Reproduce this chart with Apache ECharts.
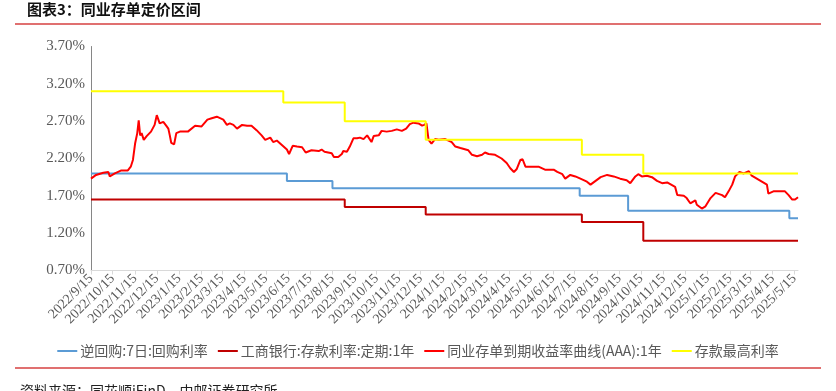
<!DOCTYPE html>
<html>
<head>
<meta charset="utf-8">
<script src="https://cdn.jsdelivr.net/npm/echarts@6/dist/echarts.min.js"></script>
<style>html,body{margin:0;padding:0;background:#fff;}#c{width:836px;height:391px;}</style>
</head>
<body>
<div id="c"></div>
<script>
// ---- data ----
const startDate = '2022/9/15';
const endDate = '2025/5/20';
const yTicks = [0.7, 1.2, 1.7, 2.2, 2.7, 3.2, 3.7];
const seriesNames = ['逆回购:7日:回购利率', '工商银行:存款利率:定期:1年', '同业存单到期收益率曲线(AAA):1年', '存款最高利率'];

const repoDates = ['2022/9/15', '2023/6/13', '2023/8/15', '2024/7/22', '2024/9/27', '2025/5/8', '2025/5/20'];
const repoValues = [2.00, 1.90, 1.80, 1.70, 1.50, 1.40, 1.40];

const icbcDates = ['2022/9/15', '2023/9/1', '2023/12/22', '2024/7/25', '2024/10/18', '2025/5/20'];
const icbcValues = [1.65, 1.55, 1.45, 1.35, 1.10, 1.10];

const maxDepDates = ['2022/9/15', '2023/6/8', '2023/9/1', '2023/12/22', '2024/7/25', '2024/10/18', '2025/5/20'];
const maxDepValues = [3.10, 2.95, 2.70, 2.45, 2.25, 2.00, 2.00];

const ncdDates = [
'2022/9/15','2022/9/22','2022/10/2','2022/10/9','2022/10/11','2022/10/18','2022/10/27','2022/11/5','2022/11/9','2022/11/12','2022/11/15','2022/11/18','2022/11/20','2022/11/22','2022/11/24','2022/11/27','2022/12/1','2022/12/7','2022/12/12','2022/12/15','2022/12/19','2022/12/24','2022/12/28','2022/12/31',
'2023/1/2','2023/1/4','2023/1/8','2023/1/11','2023/1/16','2023/1/27','2023/2/6','2023/2/15','2023/2/23','2023/3/1','2023/3/8','2023/3/17','2023/3/22','2023/3/26','2023/3/31','2023/4/5','2023/4/12','2023/4/19','2023/4/25','2023/5/2','2023/5/9','2023/5/14','2023/5/21','2023/5/25','2023/5/30','2023/6/6','2023/6/13','2023/6/16','2023/6/21','2023/6/27','2023/7/4','2023/7/9','2023/7/17','2023/7/27','2023/7/31','2023/8/4','2023/8/14','2023/8/17','2023/8/23','2023/8/28','2023/8/30','2023/9/4','2023/9/8','2023/9/13','2023/9/18','2023/9/22','2023/9/27','2023/10/2','2023/10/8','2023/10/11','2023/10/18','2023/10/22','2023/10/29','2023/11/5','2023/11/12','2023/11/19','2023/11/25','2023/11/30','2023/12/5','2023/12/12','2023/12/17','2023/12/20','2023/12/23','2023/12/26','2023/12/30',
'2024/1/4','2024/1/9','2024/1/18','2024/1/27','2024/2/1','2024/2/8','2024/2/19','2024/2/24','2024/3/2','2024/3/9','2024/3/13','2024/3/18','2024/3/27','2024/4/5','2024/4/12','2024/4/17','2024/4/22','2024/4/26','2024/5/1','2024/5/4','2024/5/8','2024/5/15','2024/5/26','2024/6/4','2024/6/16','2024/6/21','2024/6/28','2024/7/2','2024/7/9','2024/7/16','2024/7/23','2024/8/1','2024/8/6','2024/8/13','2024/8/20','2024/8/29','2024/9/7','2024/9/16','2024/9/25','2024/9/30','2024/10/7','2024/10/11','2024/10/16','2024/10/23','2024/10/30','2024/11/6','2024/11/13','2024/11/20','2024/12/1','2024/12/4','2024/12/13','2024/12/17','2024/12/22','2024/12/29','2024/12/31',
'2025/1/7','2025/1/12','2025/1/19','2025/1/26','2025/2/4','2025/2/8','2025/2/13','2025/2/18','2025/2/22','2025/2/28','2025/3/6','2025/3/13','2025/3/17','2025/3/24','2025/3/31','2025/4/7','2025/4/9','2025/4/16','2025/4/26','2025/5/2','2025/5/7','2025/5/12','2025/5/16','2025/5/20'];
const ncdValues = [
1.93,1.98,2.01,2.02,1.96,2.00,2.04,2.04,2.09,2.18,2.40,2.54,2.71,2.51,2.54,2.45,2.50,2.56,2.65,2.78,2.67,2.69,2.64,2.60,
2.51,2.41,2.39,2.54,2.56,2.56,2.64,2.63,2.72,2.74,2.76,2.72,2.65,2.67,2.65,2.60,2.65,2.64,2.64,2.58,2.51,2.45,2.48,2.42,2.44,2.38,2.32,2.26,2.37,2.36,2.35,2.28,2.31,2.30,2.32,2.29,2.27,2.22,2.22,2.26,2.30,2.29,2.36,2.47,2.47,2.48,2.46,2.51,2.42,2.50,2.51,2.57,2.56,2.57,2.59,2.57,2.60,2.66,2.68,2.67,2.64,2.65,2.67,2.45,2.40,
2.46,2.45,2.46,2.42,2.36,2.34,2.31,2.25,2.23,2.25,2.28,2.26,2.25,2.20,2.14,2.07,2.02,2.06,2.18,2.19,2.09,2.09,2.09,2.05,2.05,2.02,1.99,1.93,1.98,1.96,1.93,1.89,1.85,1.90,1.95,1.98,1.96,1.93,1.91,1.87,1.96,1.99,1.96,1.97,1.95,1.90,1.87,1.88,1.82,1.71,1.70,1.67,1.60,1.64,1.58,
1.53,1.56,1.67,1.74,1.71,1.68,1.76,1.85,1.96,2.02,2.00,2.03,1.97,1.93,1.89,1.85,1.73,1.76,1.76,1.76,1.71,1.65,1.65,1.68];

// ---- build daily category axis ----
function parseD(s){const p=s.split('/').map(Number);return Date.UTC(p[0],p[1]-1,p[2]);}
const categories = [];
for (let t = parseD(startDate); t <= parseD(endDate); t += 86400000) {
  const d = new Date(t);
  categories.push(d.getUTCFullYear() + '/' + (d.getUTCMonth()+1) + '/' + d.getUTCDate());
}
const pairs = (ds, vs) => ds.map((d, i) => [d, vs[i]]);
const isMid = (idx, val) => /\/15$/.test(val);

const serif = '"Liberation Serif","Times New Roman",serif';
const cjk = '"Noto Sans CJK SC","Liberation Serif",serif';

const chart = echarts.init(document.getElementById('c'), null, {renderer: 'canvas'});
chart.setOption({
  animation: false,
  backgroundColor: '#fff',
  grid: {left: 91, right: 38, top: 46.5, bottom: 120.5, containLabel: false},
  graphic: [
    {type: 'text', left: 27, top: 2, style: {text: '图表3：同业存单定价区间', font: 'bold 15px "Noto Sans CJK SC"', fill: '#111'}},
    {type: 'line', shape: {x1: 15, y1: 24, x2: 821, y2: 24}, style: {stroke: '#E07070', lineWidth: 2}},
    {type: 'line', shape: {x1: 15, y1: 368, x2: 821, y2: 368}, style: {stroke: '#E07070', lineWidth: 2}},
    {type: 'text', left: 20, top: 384, style: {text: '资料来源：同花顺iFinD，中邮证券研究所', font: '14px "Noto Sans CJK SC"', fill: '#222'}}
  ],
  legend: {
    bottom: 28, left: 'center',
    icon: 'rect', itemWidth: 20, itemHeight: 2, itemGap: 10,
    textStyle: {fontFamily: cjk, fontSize: 14, color: '#595959', padding: [0, 0, 0, -2]},
    data: seriesNames
  },
  xAxis: {
    type: 'category', data: categories, boundaryGap: false,
    axisLine: {lineStyle: {color: '#D9D9D9', width: 1}},
    axisTick: {interval: isMid, length: 4, lineStyle: {color: '#D9D9D9'}},
    axisLabel: {interval: isMid, rotate: 45, fontFamily: serif, fontSize: 14, color: '#595959', margin: 6},
    splitLine: {show: false}
  },
  yAxis: {
    type: 'value', min: yTicks[0], max: yTicks[yTicks.length-1], interval: 0.5,
    axisLine: {show: true, lineStyle: {color: '#868686'}},
    axisTick: {show: false},
    splitLine: {show: false},
    axisLabel: {formatter: v => v.toFixed(2) + '%', fontFamily: serif, fontSize: 15, color: '#595959', margin: 6}
  },
  series: [
    {name: seriesNames[0], type: 'line', step: 'end', symbol: 'none', data: pairs(repoDates, repoValues), lineStyle: {color: '#5B9BD5', width: 2}, itemStyle: {color: '#5B9BD5'}},
    {name: seriesNames[1], type: 'line', step: 'end', symbol: 'none', data: pairs(icbcDates, icbcValues), lineStyle: {color: '#C00000', width: 2}, itemStyle: {color: '#C00000'}},
    {name: seriesNames[2], type: 'line', symbol: 'none', data: pairs(ncdDates, ncdValues), lineStyle: {color: '#FF0000', width: 2}, itemStyle: {color: '#FF0000'}},
    {name: seriesNames[3], type: 'line', step: 'end', symbol: 'none', data: pairs(maxDepDates, maxDepValues), lineStyle: {color: '#FFFF00', width: 2}, itemStyle: {color: '#FFFF00'}}
  ]
});
</script>
</body>
</html>
